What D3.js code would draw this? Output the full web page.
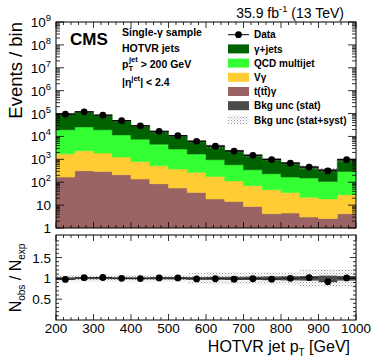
<!DOCTYPE html>
<html lang="en">
<head>
<meta charset="UTF-8">
<title>HOTVR jet pT</title>
<script src="https://d3js.org/d3.v7.min.js"></script>
<style>
  body { margin: 0; background: #fff; }
  svg { display: block; font-family: "Liberation Sans", Arial, sans-serif; }
</style>
</head>
<body>
<svg id="chart"></svg>
<script>
// bins in GeV (lower edges, 50 GeV wide)
const binLow = [200, 250, 300, 350, 400, 450, 500, 550, 600, 650, 700, 750, 800, 850, 900, 950];
const binWidth = 50;

// stacked backgrounds, events per bin (bottom to top)
const ttg   = [168, 316, 295, 212, 138, 86, 56, 36, 18.5, 14.5, 8.8, 4.2, 4.5, 3.0, 2.6, 4.2];
const vg    = [1570, 2030, 1580, 1050, 670, 440, 320, 234, 160, 100, 62, 43, 31, 19, 16, 24];
const qcd   = [17800, 23700, 17600, 10400, 6800, 4080, 2430, 1430, 780, 465, 280, 187, 132, 130, 90, 267];
const gjets = [77500, 92000, 64500, 37300, 21400, 11900, 7900, 4500, 2850, 1770, 1150, 766, 512, 298, 232, 665];

// observed
const dataObs = [94000, 119000, 85000, 49000, 29000, 16700, 10800, 6100, 3760, 2300, 1490, 980, 680, 457, 313, 970];
const ratio   = [0.975, 1.015, 1.02, 1.0, 0.995, 1.01, 1.01, 0.985, 0.99, 0.98, 0.99, 0.98, 1.0, 1.015, 0.92, 1.01];

// relative background uncertainties
const statRel = [0.006, 0.006, 0.006, 0.007, 0.008, 0.01, 0.012, 0.015, 0.02, 0.022, 0.025, 0.03, 0.035, 0.04, 0.05, 0.04];
const systRel = [0.09, 0.09, 0.09, 0.09, 0.09, 0.09, 0.09, 0.14, 0.155, 0.155, 0.155, 0.155, 0.155, 0.22, 0.22, 0.22];

const xTicks = [200, 300, 400, 500, 600, 700, 800, 900, 1000];
const ratioTicks = [0.5, 1, 1.5];

const W = 374, H = 359;
const L = 56, R = 356, T1 = 22, B1 = 228, T2 = 235, B2 = 320;
const font = '"Liberation Sans", Arial, sans-serif';

const svg = d3.select("#chart").attr("width", W).attr("height", H);

// hatch pattern for stat+syst
const defs = svg.append("defs");
const pat = defs.append("pattern").attr("id", "hatch")
  .attr("patternUnits", "userSpaceOnUse").attr("width", 3).attr("height", 3);
pat.append("rect").attr("width", 3).attr("height", 3).attr("fill", "#fff").attr("fill-opacity", 0);
pat.append("rect").attr("x", 0).attr("y", 0).attr("width", 1).attr("height", 1).attr("fill", "#9a9a9a");
pat.append("rect").attr("x", 1.5).attr("y", 1.5).attr("width", 1).attr("height", 1).attr("fill", "#b5b5b5");
defs.append("clipPath").attr("id", "clip1").append("rect")
  .attr("x", L).attr("y", T1).attr("width", R - L).attr("height", B1 - T1);
defs.append("clipPath").attr("id", "clip2").append("rect")
  .attr("x", L).attr("y", T2).attr("width", R - L).attr("height", B2 - T2);

const x = d3.scaleLinear().domain([200, 1000]).range([L, R]);
const y1 = d3.scaleLog().domain([1, 1e9]).range([B1, T1]).clamp(true);
const y2 = d3.scaleLinear().domain([0, 2.04]).range([B2, T2]);

// ---------- upper panel ----------
const rows = binLow.map((lo, i) => ({ lo, ttg: ttg[i], vg: vg[i], qcd: qcd[i], gjets: gjets[i] }));
const keys = ["ttg", "vg", "qcd", "gjets"];
const colors = { ttg: "#9a6464", vg: "#ffcc33", qcd: "#33ff33", gjets: "#006300" };
const stacked = d3.stack().keys(keys)(rows);

const stepPts = s => s.flatMap((d, i) => [
  { x: binLow[i], y0: d[0], y1: d[1] },
  { x: binLow[i] + binWidth, y0: d[0], y1: d[1] }
]);
const area = d3.area()
  .x(d => x(d.x))
  .y0(d => y1(Math.max(d.y0, 1)))
  .y1(d => y1(Math.max(d.y1, 1)));

const g1 = svg.append("g").attr("clip-path", "url(#clip1)");
g1.selectAll("path.layer").data(stacked).join("path")
  .attr("class", "layer")
  .attr("d", s => area(stepPts(s)))
  .attr("fill", s => colors[s.key])
  .attr("stroke", s => colors[s.key]).attr("stroke-width", 0.5);

const total = stacked[stacked.length - 1].map(d => d[1]);

// syst band + stat band on top of the stack
g1.selectAll("rect.syst").data(binLow).join("rect")
  .attr("class", "syst")
  .attr("x", d => x(d)).attr("width", x(binWidth + 200) - x(200))
  .attr("y", (d, i) => y1(total[i] * (1 + systRel[i])))
  .attr("height", (d, i) => y1(total[i] * (1 - systRel[i])) - y1(total[i] * (1 + systRel[i])))
  .attr("fill", "url(#hatch)");
g1.selectAll("rect.stat").data(binLow).join("rect")
  .attr("class", "stat")
  .attr("x", d => x(d)).attr("width", x(binWidth + 200) - x(200))
  .attr("y", (d, i) => y1(total[i] * (1 + statRel[i])) - 0.6)
  .attr("height", (d, i) => y1(total[i] * (1 - statRel[i])) - y1(total[i] * (1 + statRel[i])) + 1.2)
  .attr("fill", "#4b4b4b");

// data points
g1.selectAll("line.xerr").data(binLow).join("line")
  .attr("class", "xerr")
  .attr("x1", d => x(d)).attr("x2", d => x(d + binWidth))
  .attr("y1", (d, i) => y1(dataObs[i])).attr("y2", (d, i) => y1(dataObs[i]))
  .attr("stroke", "#000").attr("stroke-width", 1);
g1.selectAll("circle.pt").data(binLow).join("circle")
  .attr("class", "pt")
  .attr("cx", d => x(d + binWidth / 2))
  .attr("cy", (d, i) => y1(dataObs[i]))
  .attr("r", 3.4).attr("fill", "#000");

// ---------- lower panel ----------
const g2 = svg.append("g").attr("clip-path", "url(#clip2)");
g2.selectAll("rect.rsyst").data(binLow).join("rect")
  .attr("class", "rsyst")
  .attr("x", d => x(d)).attr("width", x(binWidth + 200) - x(200))
  .attr("y", (d, i) => y2(1 + systRel[i]))
  .attr("height", (d, i) => y2(1 - systRel[i]) - y2(1 + systRel[i]))
  .attr("fill", "url(#hatch)");
g2.append("line")
  .attr("x1", L).attr("x2", R).attr("y1", y2(1)).attr("y2", y2(1))
  .attr("stroke", "#000").attr("stroke-width", 1);
g2.selectAll("rect.rstat").data(binLow).join("rect")
  .attr("class", "rstat")
  .attr("x", d => x(d)).attr("width", x(binWidth + 200) - x(200))
  .attr("y", (d, i) => y2(1 + statRel[i]) - 0.6)
  .attr("height", (d, i) => y2(1 - statRel[i]) - y2(1 + statRel[i]) + 1.2)
  .attr("fill", "#4b4b4b");
g2.selectAll("line.rxerr").data(binLow).join("line")
  .attr("class", "rxerr")
  .attr("x1", d => x(d)).attr("x2", d => x(d + binWidth))
  .attr("y1", (d, i) => y2(ratio[i])).attr("y2", (d, i) => y2(ratio[i]))
  .attr("stroke", "#222").attr("stroke-width", 1);
g2.selectAll("circle.rpt").data(binLow).join("circle")
  .attr("class", "rpt")
  .attr("cx", d => x(d + binWidth / 2))
  .attr("cy", (d, i) => y2(ratio[i]))
  .attr("r", 3.4).attr("fill", "#000");

// ---------- frames and ticks ----------
function frame(top, bottom) {
  svg.append("rect").attr("x", L).attr("y", top).attr("width", R - L).attr("height", bottom - top)
    .attr("fill", "none").attr("stroke", "#000").attr("stroke-width", 1);
}
frame(T1, B1);
frame(T2, B2);

const tickG = svg.append("g").attr("stroke", "#000").attr("stroke-width", 0.8);
function xTickMarks(top, bottom) {
  d3.range(200, 1001, 20).forEach(v => {
    const len = v % 100 === 0 ? 6 : 3;
    tickG.append("line").attr("x1", x(v)).attr("x2", x(v)).attr("y1", bottom).attr("y2", bottom - len);
    tickG.append("line").attr("x1", x(v)).attr("x2", x(v)).attr("y1", top).attr("y2", top + len);
  });
}
xTickMarks(T1, B1);
xTickMarks(T2, B2);

// log y ticks
for (let e = 0; e < 9; e++) {
  for (let m = 1; m < 10; m++) {
    const v = m * Math.pow(10, e);
    const len = m === 1 ? 8 : 4;
    tickG.append("line").attr("x1", L).attr("x2", L + len).attr("y1", y1(v)).attr("y2", y1(v));
    tickG.append("line").attr("x1", R).attr("x2", R - len).attr("y1", y1(v)).attr("y2", y1(v));
  }
}
tickG.append("line").attr("x1", L).attr("x2", L + 8).attr("y1", y1(1e9)).attr("y2", y1(1e9));
tickG.append("line").attr("x1", R).attr("x2", R - 8).attr("y1", y1(1e9)).attr("y2", y1(1e9));

// ratio y ticks
d3.range(0.1, 2.0, 0.1).forEach(v => {
  const major = Math.abs(v * 2 - Math.round(v * 2)) < 1e-6;
  const len = major ? 6 : 3;
  tickG.append("line").attr("x1", L).attr("x2", L + len).attr("y1", y2(v)).attr("y2", y2(v));
  tickG.append("line").attr("x1", R).attr("x2", R - len).attr("y1", y2(v)).attr("y2", y2(v));
});

// ---------- tick labels ----------
const lbl = svg.append("g").attr("font-family", font).attr("fill", "#000");
for (let e = 0; e <= 9; e++) {
  const t = lbl.append("text").attr("x", 51).attr("y", y1(Math.pow(10, e)) + 5)
    .attr("text-anchor", "end").attr("font-size", 13.5);
  if (e === 0) t.text("1");
  else if (e === 1) t.text("10");
  else {
    t.append("tspan").text("10");
    t.append("tspan").attr("font-size", 9.5).attr("dy", -6).text(e);
  }
}
ratioTicks.forEach(v => {
  lbl.append("text").attr("x", 51).attr("y", y2(v) + 5).attr("text-anchor", "end")
    .attr("font-size", 13.5).text(v);
});
xTicks.forEach(v => {
  lbl.append("text").attr("x", x(v)).attr("y", 333).attr("text-anchor", "middle")
    .attr("font-size", 13.5).text(v);
});

// axis titles
const xt = lbl.append("text").attr("x", 350).attr("y", 352).attr("text-anchor", "end").attr("font-size", 16);
xt.append("tspan").text("HOTVR jet p");
xt.append("tspan").attr("font-size", 10).attr("dy", 4).text("T");
xt.append("tspan").attr("dy", -4).text(" [GeV]");

lbl.append("text").attr("transform", "translate(22,22) rotate(-90)")
  .attr("text-anchor", "end").attr("font-size", 18.5).text("Events / bin");

const yt2 = lbl.append("text").attr("transform", "translate(21,278) rotate(-90)")
  .attr("text-anchor", "middle").attr("font-size", 16);
yt2.append("tspan").text("N");
yt2.append("tspan").attr("font-size", 10).attr("dy", 4).text("obs");
yt2.append("tspan").attr("dy", -4).text(" / N");
yt2.append("tspan").attr("font-size", 10).attr("dy", 4).text("exp");

// lumi label
const lumi = lbl.append("text").attr("x", 344).attr("y", 18).attr("text-anchor", "end").attr("font-size", 14);
lumi.append("tspan").text("35.9 fb");
lumi.append("tspan").attr("font-size", 9.5).attr("dy", -6).text("-1");
lumi.append("tspan").attr("dy", 6).text(" (13 TeV)");

// CMS + selection text
lbl.append("text").attr("x", 70).attr("y", 44.5).attr("font-size", 17).attr("font-weight", "bold").text("CMS");
const sel = lbl.append("g").attr("font-size", 10.5).attr("font-weight", "bold");
sel.append("text").attr("x", 122).attr("y", 36).text("Single-γ sample");
sel.append("text").attr("x", 122).attr("y", 52).text("HOTVR jets");
const ptT = sel.append("text").attr("x", 122).attr("y", 68);
ptT.append("tspan").text("p");
ptT.append("tspan").attr("font-size", 7.5).attr("dy", 3).text("T");
ptT.append("tspan").attr("font-size", 7.5).attr("dx", -4).attr("dy", -9).text("jet");
ptT.append("tspan").attr("dy", 6).text(" > 200 GeV");
const etaT = sel.append("text").attr("x", 122).attr("y", 86);
etaT.append("tspan").text("|η");
etaT.append("tspan").attr("font-size", 7.5).attr("dy", -5).text("jet");
etaT.append("tspan").attr("dy", 5).text("| < 2.4");

// ---------- legend ----------
const legendItems = [
  { label: "Data", type: "data" },
  { label: "γ+jets", fill: colors.gjets },
  { label: "QCD multijet", fill: colors.qcd },
  { label: "Vγ", fill: colors.vg },
  { label: "t(tt̄)γ", fill: colors.ttg },
  { label: "Bkg unc (stat)", fill: "#4b4b4b" },
  { label: "Bkg unc (stat+syst)", fill: "url(#hatch)" }
];
const leg = svg.append("g").attr("font-family", font);
legendItems.forEach((d, i) => {
  const cy = 34.7 + i * 14.2;
  if (d.type === "data") {
    leg.append("line").attr("x1", 228).attr("x2", 249).attr("y1", cy).attr("y2", cy)
      .attr("stroke", "#000").attr("stroke-width", 1);
    leg.append("circle").attr("cx", 238.5).attr("cy", cy).attr("r", 3.4).attr("fill", "#000");
  } else {
    leg.append("rect").attr("x", 228).attr("y", cy - 4.5).attr("width", 21).attr("height", 9)
      .attr("fill", d.fill);
  }
  leg.append("text").attr("x", 254).attr("y", cy + 3.7).attr("font-size", 10)
    .attr("font-weight", "bold").text(d.label);
});
</script>
</body>
</html>
